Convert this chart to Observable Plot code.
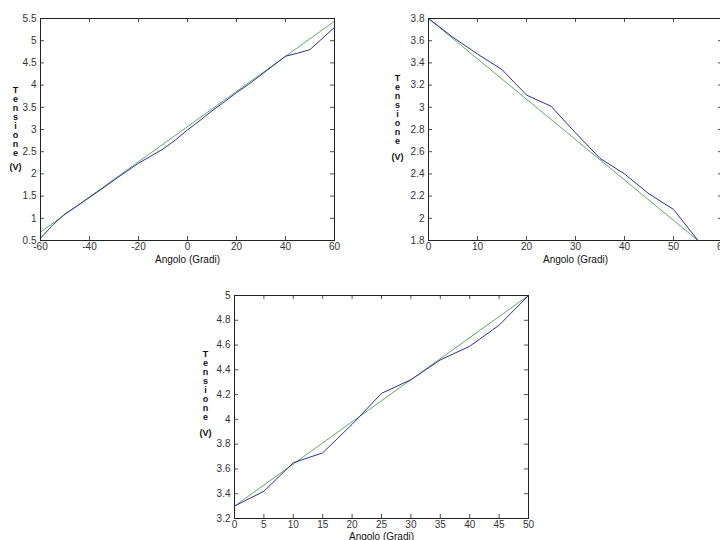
<!DOCTYPE html>
<html>
<head>
<meta charset="utf-8">
<script src="https://cdn.jsdelivr.net/npm/d3@7"></script>
<script src="https://cdn.jsdelivr.net/npm/@observablehq/plot@0.6"></script>
<style>
  html, body { margin: 0; padding: 0; background: #fff; overflow: hidden; }
  #page { position: relative; width: 720px; height: 540px; overflow: hidden; background: #fff; }
  #page > div, #page > svg { position: absolute; }
</style>
</head>
<body>
<div id="page"></div>
<script>
// ---------- Data ----------
// Panel 1 (top-left)
const angoli1 = [-60,-55,-50,-45,-40,-35,-30,-25,-20,-15,-10,-5,0,5,10,15,20,25,30,35,40,45,50,55,60];
const tensione1 = [0.55,0.85,1.10,1.28,1.47,1.66,1.86,2.05,2.24,2.40,2.56,2.76,2.99,3.20,3.42,3.62,3.83,4.02,4.23,4.44,4.65,4.72,4.80,5.05,5.30];
const fitAngoli1 = [-60, 60];
const fitTensione1 = [0.69, 5.44];
const xTicks1 = [-60,-40,-20,0,20,40,60];
const yTicks1 = [0.5,1,1.5,2,2.5,3,3.5,4,4.5,5,5.5];

// Panel 2 (top-right)
const angoli2 = [0,5,10,15,20,25,30,35,40,45,50,55];
const tensione2 = [3.80,3.63,3.48,3.34,3.11,3.01,2.77,2.54,2.40,2.22,2.08,1.80];
const fitAngoli2 = [0, 55];
const fitTensione2 = [3.80, 1.80];
const xTicks2 = [0,10,20,30,40,50,60];
const yTicks2 = [1.8,2,2.2,2.4,2.6,2.8,3,3.2,3.4,3.6,3.8];

// Panel 3 (bottom)
const angoli3 = [0,5,10,15,20,25,30,35,40,45,50];
const tensione3 = [3.30,3.42,3.65,3.73,3.96,4.21,4.32,4.48,4.59,4.76,5.00];
const fitAngoli3 = [0, 50];
const fitTensione3 = [3.30, 5.00];
const xTicks3 = [0,5,10,15,20,25,30,35,40,45,50];
const yTicks3 = [3.2,3.4,3.6,3.8,4,4.2,4.4,4.6,4.8,5];

const xLabel = "Angolo (Gradi)";
const yLabelLetters = "T\ne\nn\ns\ni\no\nn\ne";
const yLabelUnit = "(V)";

// ---------- Drawing ----------
const fmt = d => String(+(+d).toFixed(2));
const BLUE = "#2e2e9e";
const GREEN = "#4f9f4f";

function panel(cfg) {
  const plotW = cfg.width - cfg.ml - cfg.mr;
  const plotH = cfg.height - cfg.mt - cfg.mb;
  const data = cfg.xs.map((x, i) => ({x, y: cfg.ys[i]}));
  const fit = cfg.fx.map((x, i) => ({x, y: cfg.fy[i]}));
  const svg = Plot.plot({
    width: cfg.width,
    height: cfg.height,
    marginLeft: cfg.ml, marginRight: cfg.mr, marginTop: cfg.mt, marginBottom: cfg.mb,
    style: {fontFamily: "'Liberation Sans', Arial, sans-serif", fontSize: "10px", color: "#222", background: "transparent", overflow: "visible"},
    x: {domain: cfg.xDomain, axis: null},
    y: {domain: cfg.yDomain, axis: null},
    marks: [
      Plot.line(fit, {x: "x", y: "y", stroke: GREEN, strokeWidth: 0.9}),
      Plot.line(data, {x: "x", y: "y", stroke: BLUE, strokeWidth: 1}),
      // inward ticks on all four sides
      Plot.tickY(cfg.yTicks, {y: d => d, insetRight: plotW - 4, stroke: "#222", strokeWidth: 0.8}),
      Plot.tickY(cfg.yTicks, {y: d => d, insetLeft: plotW - 4, stroke: "#222", strokeWidth: 0.8}),
      Plot.tickX(cfg.xTicks, {x: d => d, insetTop: plotH - 4, stroke: "#222", strokeWidth: 0.8}),
      Plot.tickX(cfg.xTicks, {x: d => d, insetBottom: plotH - 4, stroke: "#222", strokeWidth: 0.8}),
      Plot.frame({stroke: "#222", strokeWidth: 1}),
      Plot.axisX(cfg.xTicks, {tickSize: 0, tickPadding: 2, tickFormat: fmt, label: null, fill: "#333"}),
      Plot.axisY(cfg.yTicks, {tickSize: 0, tickPadding: 4, tickFormat: fmt, label: null, fill: "#333"}),
      Plot.text([xLabel], {frameAnchor: "bottom", dy: cfg.xlDy, textAnchor: "middle", lineAnchor: "middle", fontSize: 10, fill: "#111"}),
      Plot.text([yLabelLetters], {frameAnchor: "left", dx: cfg.ylDx, dy: cfg.ylDy, textAnchor: "middle", lineAnchor: "middle", lineHeight: 1.01, fontSize: 9, fontWeight: "bold", fill: "#111"}),
      Plot.text([yLabelUnit], {frameAnchor: "left", dx: cfg.ylDx, dy: cfg.vDy, textAnchor: "middle", lineAnchor: "middle", fontSize: 9, fontWeight: "bold", fill: "#111"})
    ]
  });
  svg.style.position = "absolute";
  svg.style.left = cfg.left + "px";
  svg.style.top = cfg.top + "px";
  document.getElementById("page").appendChild(svg);
}

panel({xs: angoli1, ys: tensione1, fx: fitAngoli1, fy: fitTensione1,
  xDomain: [-60, 60], yDomain: [0.5, 5.5], xTicks: xTicks1, yTicks: yTicks1,
  left: 0, top: 0, width: 340, height: 270, ml: 40, mr: 6, mt: 18, mb: 30,
  xlDy: 19, ylDx: -25, ylDy: -8, vDy: 38});

panel({xs: angoli2, ys: tensione2, fx: fitAngoli2, fy: fitTensione2,
  xDomain: [0, 60], yDomain: [1.8, 3.8], xTicks: xTicks2, yTicks: yTicks2,
  left: 360, top: 0, width: 368, height: 270, ml: 68, mr: 6, mt: 18, mb: 30,
  xlDy: 19, ylDx: -31, ylDy: -20, vDy: 28});

panel({xs: angoli3, ys: tensione3, fx: fitAngoli3, fy: fitTensione3,
  xDomain: [0, 50], yDomain: [3.2, 5], xTicks: xTicks3, yTicks: yTicks3,
  left: 190, top: 277, width: 344, height: 271, ml: 44, mr: 6, mt: 18, mb: 30,
  xlDy: 18, ylDx: -29, ylDy: -21.5, vDy: 26.5});
</script>
</body>
</html>
